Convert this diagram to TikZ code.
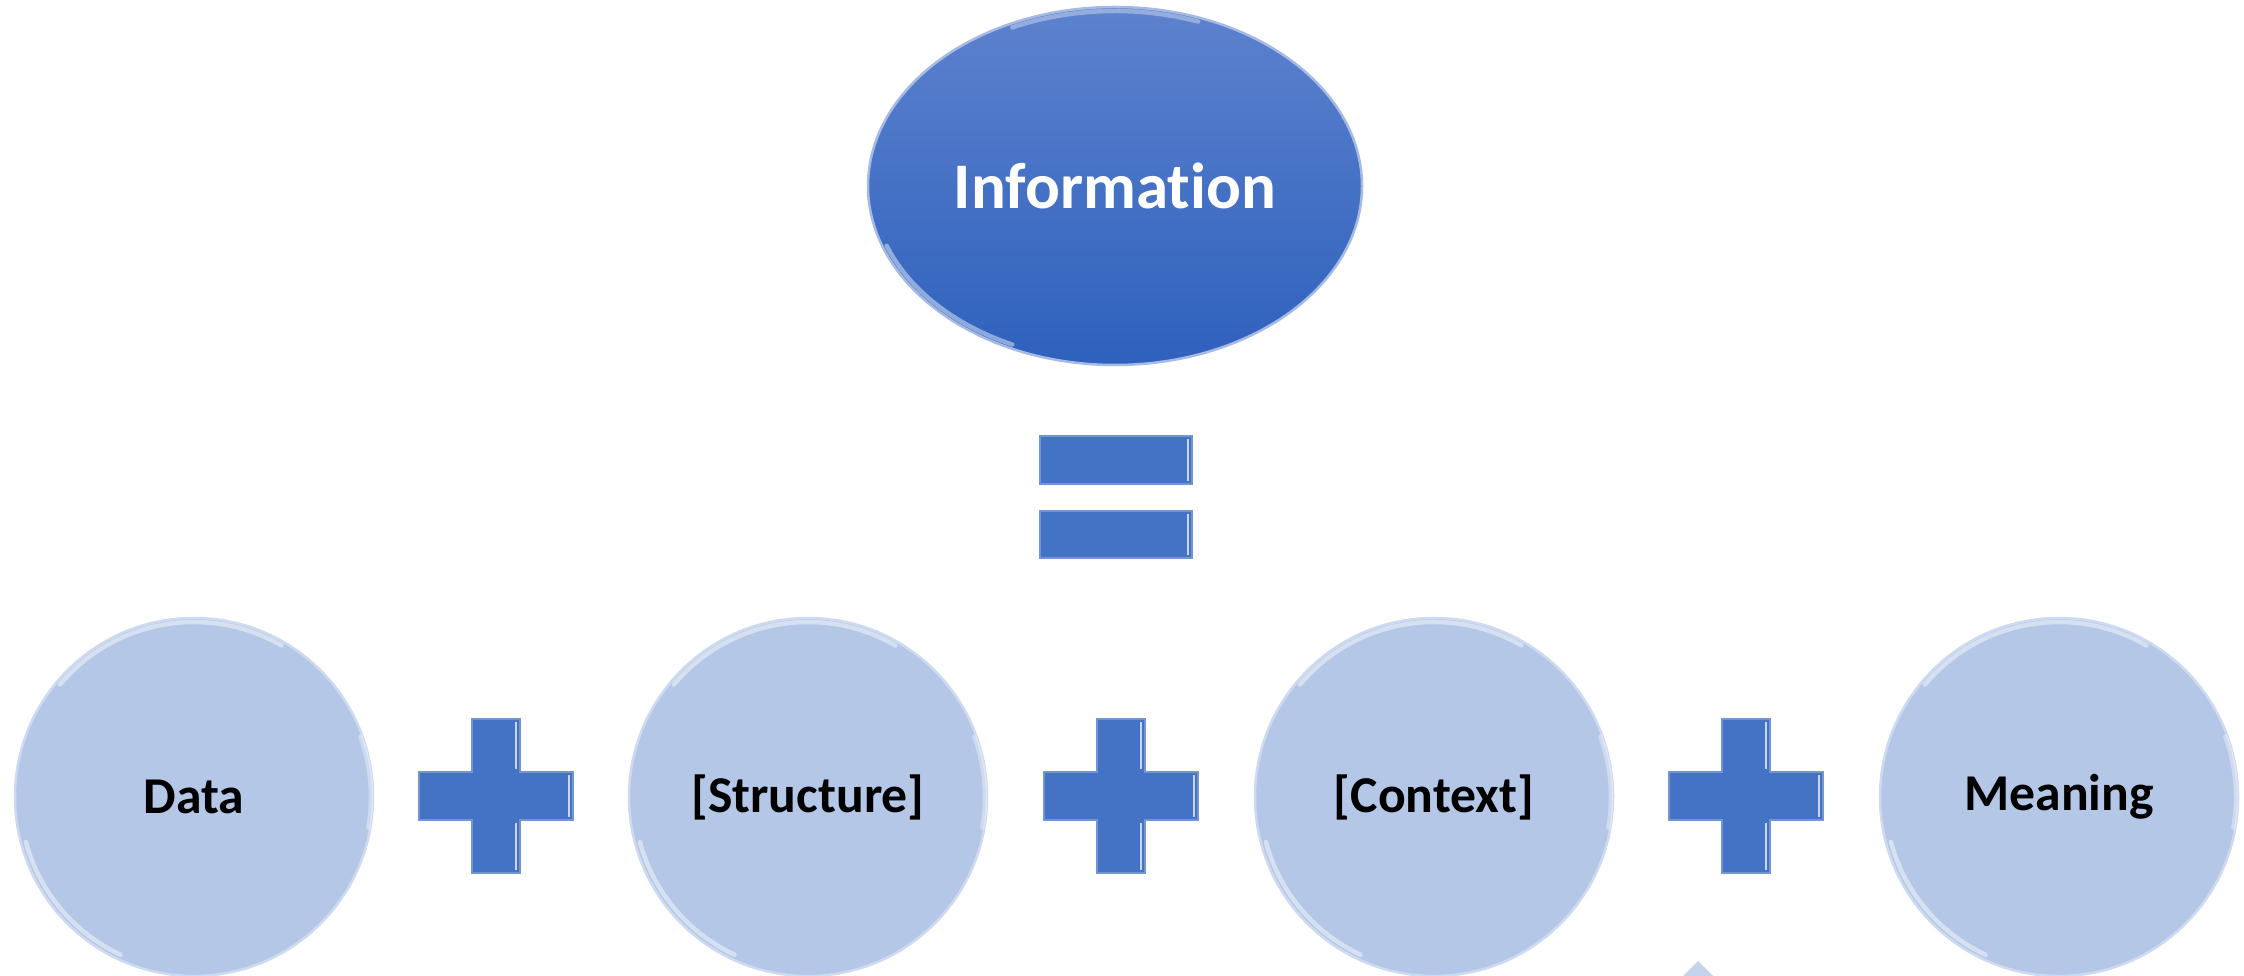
\documentclass[tikz,border=0pt]{standalone}
\usepackage{fontspec}
\setmainfont{Carlito}[Ligatures={NoCommon}]
\usepackage{tikz}
\usepackage{xcolor}
\usetikzlibrary{shapes.geometric}

\definecolor{infoTop}{RGB}{93,130,206}
\definecolor{infoBot}{RGB}{46,97,189}
\definecolor{opBlue}{RGB}{68,114,196}
\definecolor{ballFill}{RGB}{180,199,231}
\definecolor{ballRim}{RGB}{205,218,240}
\definecolor{tipFill}{RGB}{197,211,236}

\begin{document}
\begin{tikzpicture}[x=0.1mm,y=-0.1mm,
    term/.style={circle, minimum size=35.8mm, inner sep=0pt, fill=ballFill,
      draw=ballRim, line width=0.25mm, font=\fontsize{14.7}{17}\selectfont\bfseries},
    result/.style={ellipse, minimum width=49.4mm, minimum height=35.8mm, inner sep=0pt,
      top color=infoTop, bottom color=infoBot, draw=infoTop!55!white, line width=0.25mm,
      text=white, font=\fontsize{18.5}{22}\selectfont\bfseries},
    opbar/.style={fill=opBlue, draw=opBlue!75!white, line width=0.2mm},
    gloss/.style={white, line width=0.45mm, opacity=0.45, line cap=round}]

  \useasboundingbox (0,0) rectangle (2244,976);

  % result on top
  \node[result] (info) at (1115,186) {Informat\kern0pt ion};

  % equals sign
  \fill[opbar] (1040,436) rectangle (1192,484);
  \fill[opbar] (1040,511) rectangle (1192,558);
  \draw[opBlue!30!white, line width=0.25mm] (1188,439) -- (1188,481);
  \draw[opBlue!30!white, line width=0.25mm] (1188,514) -- (1188,555);

  % the four terms
  \node[term] (data)    at (194,797)  {Data};
  \node[term] (struct)  at (808,797)  {[Structure]};
  \node[term] (ctx)     at (1434,797) {[Context]};
  \node[term] (meaning) at (2059,797) {Meaning};

  % plus signs between them
  \coordinate (plus1) at (496,796);
  \coordinate (plus2) at (1121,796);
  \coordinate (plus3) at (1746,796);
  \foreach \p in {plus1,plus2,plus3}{
    \begin{scope}[shift={(\p)}]
      \fill[opbar] (-24,-77) -- (24,-77) -- (24,-24) -- (77,-24) -- (77,24) -- (24,24)
        -- (24,77) -- (-24,77) -- (-24,24) -- (-77,24) -- (-77,-24) -- (-24,-24) -- cycle;
      \draw[opBlue!30!white, line width=0.25mm] (73,-21) -- (73,21);
      \draw[opBlue!30!white, line width=0.25mm] (20,-74) -- (20,-27);
      \draw[opBlue!30!white, line width=0.25mm] (20,27) -- (20,74);
    \end{scope}
  }

  % glossy rims
  \foreach \n in {data,struct,ctx,meaning}{
    \draw[gloss] ([shift={(140:17.5mm)}]\n.center) arc[start angle=140, end angle=60, radius=17.5mm];
    \draw[gloss] ([shift={(195:17.4mm)}]\n.center) arc[start angle=195, end angle=245, radius=17.4mm];
    \draw[gloss, opacity=0.35] ([shift={(-10:17.7mm)}]\n.center) arc[start angle=-10, end angle=20, radius=17.7mm];
  }
  \draw[gloss] ([shift={(200:24.3mm and 17.5mm)}]info.center)
    arc[start angle=200, end angle=245, x radius=24.3mm, y radius=17.5mm];
  \draw[gloss, opacity=0.35] ([shift={(115:24.3mm and 17.5mm)}]info.center)
    arc[start angle=115, end angle=70, x radius=24.3mm, y radius=17.5mm];

  % tip showing at the bottom edge
  \fill[tipFill] (1683,976) -- (1698,961) -- (1713,976) -- cycle;
\end{tikzpicture}
\end{document}
